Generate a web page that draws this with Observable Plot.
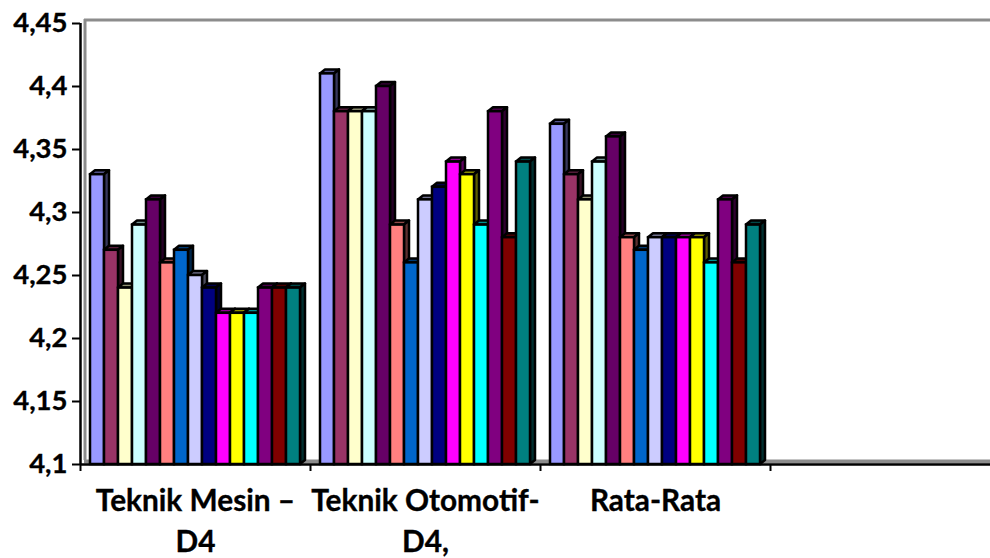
<!DOCTYPE html>
<html>
<head>
<meta charset="utf-8">
<style>html,body{margin:0;padding:0;background:#fff;overflow:hidden}svg{display:block}svg text{stroke:#000;stroke-width:.35px}</style>
<script src="https://cdn.jsdelivr.net/npm/d3@7"></script>
<script src="https://cdn.jsdelivr.net/npm/@observablehq/plot@0.6"></script>
</head>
<body>
<div id="chart"></div>
<script>
const categories = ["Teknik Mesin –\nD4", "Teknik Otomotif-\nD4,", "Rata-Rata"];
const teknikMesin = [4.33,4.27,4.24,4.29,4.31,4.26,4.27,4.25,4.24,4.22,4.22,4.22,4.24,4.24,4.24];
const teknikOtomotif = [4.41,4.38,4.38,4.38,4.40,4.29,4.26,4.31,4.32,4.34,4.33,4.29,4.38,4.28,4.34];
const rataRata = [4.37,4.33,4.31,4.34,4.36,4.28,4.27,4.28,4.28,4.28,4.28,4.26,4.31,4.26,4.29];
const seriesColors = ["#9999FF","#993366","#FFFFCC","#CCFFFF","#660066","#FF8080","#0066CC","#CCCCFF","#000080","#FF00FF","#FFFF00","#00FFFF","#800080","#800000","#008080"];
const tickValues = [4.1,4.15,4.2,4.25,4.3,4.35,4.4,4.45];
const groupEdges = [0,1,2,3,4];

const groups = [teknikMesin, teknikOtomotif, rataRata];
const rows = groups.flatMap((values, g) => values.map((value, s) => ({g, s, value, color: seriesColors[s]})));
const slot = 14 / 230, pad = 10 / 230;
const BASE = 4.1, FONT_Y = 27.5, FONT_X = 29.8;

function withDepth(index, scales, values, dims, ctx, next) {
  const g = next(index, scales, values, dims, ctx);
  const dx = 5, dy = 4;
  for (const r of Array.from(g.querySelectorAll("rect"))) {
    const x = +r.getAttribute("x"), y = +r.getAttribute("y");
    const w = +r.getAttribute("width"), h = +r.getAttribute("height");
    const c = d3.color(r.getAttribute("fill"));
    const face = (pts, col) => {
      const p = document.createElementNS("http://www.w3.org/2000/svg", "polygon");
      p.setAttribute("points", pts.map(q => q.join(",")).join(" "));
      p.setAttribute("fill", col);
      p.setAttribute("stroke", "#000");
      p.setAttribute("stroke-width", 2.5);
      p.setAttribute("stroke-linejoin", "round");
      g.insertBefore(p, r);
    };
    face([[x,y],[x+dx,y-dy],[x+w+dx,y-dy],[x+w,y]], c.darker(1.6).formatHex());
    face([[x+w,y],[x+w+dx,y-dy],[x+w+dx,y+h-dy],[x+w,y+h]], c.darker(2.8).formatHex());
  }
  return g;
}

const fmt = d => String(d).replace(".", ",");
const chart = Plot.plot({
  width: 990, height: 558,
  marginLeft: 80, marginRight: -10, marginTop: 23, marginBottom: 94,
  style: {fontFamily: "Lato", background: "#fff", color: "#000"},
  x: {domain: [0, 4], axis: null},
  y: {domain: [BASE, 4.45], axis: null},
  color: {type: "identity"},
  marks: [
    Plot.ruleX([0], {dx: 4.5, dy: -4, stroke: "#8c8c8c", strokeWidth: 3}),
    Plot.ruleY([4.45], {dx: 4, dy: -3.5, stroke: "#8c8c8c", strokeWidth: 3}),
    Plot.ruleY([BASE], {dx: 4, dy: -3, stroke: "#8c8c8c", strokeWidth: 4}),
    Plot.rectY(rows, {
      x1: d => d.g + pad + d.s * slot,
      x2: d => d.g + pad + (d.s + 1) * slot,
      y1: () => BASE,
      y2: "value",
      fill: "color",
      stroke: "#000",
      strokeWidth: 2.5,
      render: withDepth
    }),
    Plot.ruleX([0], {stroke: "#000", strokeWidth: 2.5}),
    Plot.ruleY([BASE], {stroke: "#000", strokeWidth: 2.5}),
    Plot.axisY({ticks: tickValues, tickFormat: fmt, tickSize: 8, strokeWidth: 2, stroke: "#000", fontSize: FONT_Y, fontWeight: 700, fontFamily: "Lato", tickPadding: 5, label: null, fill: "#000"}),
    Plot.axisX({ticks: groupEdges, tickFormat: () => "", tickSize: 7, strokeWidth: 2, stroke: "#000", label: null}),
    Plot.text(categories, {
      x: (d, i) => i + 0.5, y: () => BASE, text: d => d,
      dy: 18, lineAnchor: "top", lineHeight: 1.36,
      fontSize: FONT_X, fontWeight: 700, fontFamily: "Lato", fill: "#000"
    })
  ]
});
document.getElementById("chart").appendChild(chart);
</script>
</body>
</html>
